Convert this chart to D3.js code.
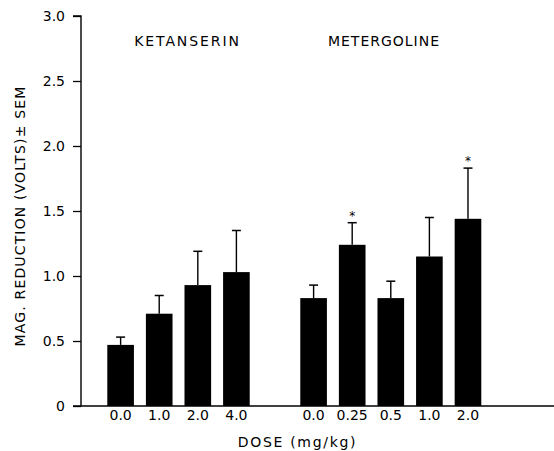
<!DOCTYPE html>
<html><head><meta charset="utf-8">
<script src="https://cdn.jsdelivr.net/npm/d3@7"></script>
<style>
body{margin:0;background:#fff;}
text{font-family:"DejaVu Sans",sans-serif;fill:#000;}
</style></head>
<body>
<svg id="c" width="554" height="451"></svg>
<script>
// Data
const groups = ["KETANSERIN", "METERGOLINE"];
const ketDoses = ["0.0", "1.0", "2.0", "4.0"];
const ketMeans = [0.47, 0.71, 0.93, 1.03];
const ketSem   = [0.06, 0.14, 0.26, 0.32];
const ketSig   = [false, false, false, false];
const metDoses = ["0.0", "0.25", "0.5", "1.0", "2.0"];
const metMeans = [0.83, 1.24, 0.83, 1.15, 1.44];
const metSem   = [0.10, 0.17, 0.13, 0.30, 0.39];
const metSig   = [false, true, false, false, true];
const yTicks = [0, 0.5, 1.0, 1.5, 2.0, 2.5, 3.0];
const yTickLabels = ["0", "0.5", "1.0", "1.5", "2.0", "2.5", "3.0"];
const yTitle = "MAG. REDUCTION (VOLTS)\u00B1 SEM";
const xTitle = "DOSE (mg/kg)";

const rows = [];
ketDoses.forEach((d,i)=>rows.push({key:"K"+i, group:0, dose:d, mean:ketMeans[i], sem:ketSem[i], sig:ketSig[i]}));
metDoses.forEach((d,i)=>rows.push({key:"M"+i, group:1, dose:d, mean:metMeans[i], sem:metSem[i], sig:metSig[i]}));
const slots = ketDoses.map((d,i)=>"K"+i).concat(["gap"], metDoses.map((d,i)=>"M"+i));

const svg = d3.select("#c");
const x = d3.scaleBand().domain(slots).range([107.3, 481.3]).paddingInner(0.31).paddingOuter(0);
const y = d3.scaleLinear().domain([0, 3]).range([406, 16]);
const axisX = 81;

// y axis
const ya = svg.append("g").attr("transform", `translate(${axisX},0)`)
  .call(d3.axisLeft(y).tickValues(yTicks).tickSize(8).tickPadding(8)
    .tickFormat((d,i)=>yTickLabels[i]));
ya.select(".domain").attr("stroke","#000").attr("stroke-width",1.4).attr("d", `M-8,${y(3)}H0V${y(0)}`);
ya.selectAll(".tick line").attr("stroke","#000").attr("stroke-width",1.3);
ya.selectAll(".tick text").attr("font-size",14)
  .attr("font-family","DejaVu Sans, sans-serif").attr("fill","#000");

// baseline
svg.append("line").attr("x1",axisX-8).attr("x2",554).attr("y1",y(0)).attr("y2",y(0))
  .attr("stroke","#000").attr("stroke-width",1.4);

// bars
svg.selectAll("rect.bar").data(rows).join("rect").attr("class","bar")
  .attr("x", d=>x(d.key)).attr("width", x.bandwidth())
  .attr("y", d=>y(d.mean)).attr("height", d=>y(0)-y(d.mean)).attr("fill","#000");

// error bars
const eb = svg.selectAll("g.err").data(rows).join("g").attr("class","err");
eb.append("line").attr("x1", d=>x(d.key)+x.bandwidth()/2).attr("x2", d=>x(d.key)+x.bandwidth()/2)
  .attr("y1", d=>y(d.mean)).attr("y2", d=>y(d.mean+d.sem)).attr("stroke","#000").attr("stroke-width",1.4);
eb.append("line").attr("x1", d=>x(d.key)+x.bandwidth()/2-4.5).attr("x2", d=>x(d.key)+x.bandwidth()/2+4.5)
  .attr("y1", d=>y(d.mean+d.sem)).attr("y2", d=>y(d.mean+d.sem)).attr("stroke","#000").attr("stroke-width",1.5);

// stars
svg.selectAll("text.star").data(rows.filter(d=>d.sig)).join("text").attr("class","star")
  .attr("x", d=>x(d.key)+x.bandwidth()/2).attr("y", d=>y(d.mean+d.sem)-3)
  .attr("text-anchor","middle").attr("font-size",12).text("*");

// x tick labels
svg.selectAll("text.xl").data(rows).join("text").attr("class","xl")
  .attr("x", d=>x(d.key)+x.bandwidth()/2).attr("y", 420)
  .attr("text-anchor","middle").attr("font-size",14).text(d=>d.dose);

// group labels
const gx = [187.5, 384];
const gSpacing = [1.9, 1.0];
svg.selectAll("text.gl").data(groups).join("text").attr("class","gl")
  .attr("x",(d,i)=>gx[i]).attr("y",45.5).attr("text-anchor","middle")
  .attr("font-size",14).attr("letter-spacing",(d,i)=>gSpacing[i]+"px").text(d=>d);

// axis titles
svg.append("text").attr("x",297.5).attr("y",447).attr("text-anchor","middle")
  .attr("font-size",14).attr("letter-spacing","1.7px").text(xTitle);
svg.append("text").attr("transform","translate(25,216) rotate(-90)").attr("text-anchor","middle")
  .attr("font-size",14).attr("letter-spacing","1.15px").text(yTitle);
</script>
</body></html>
